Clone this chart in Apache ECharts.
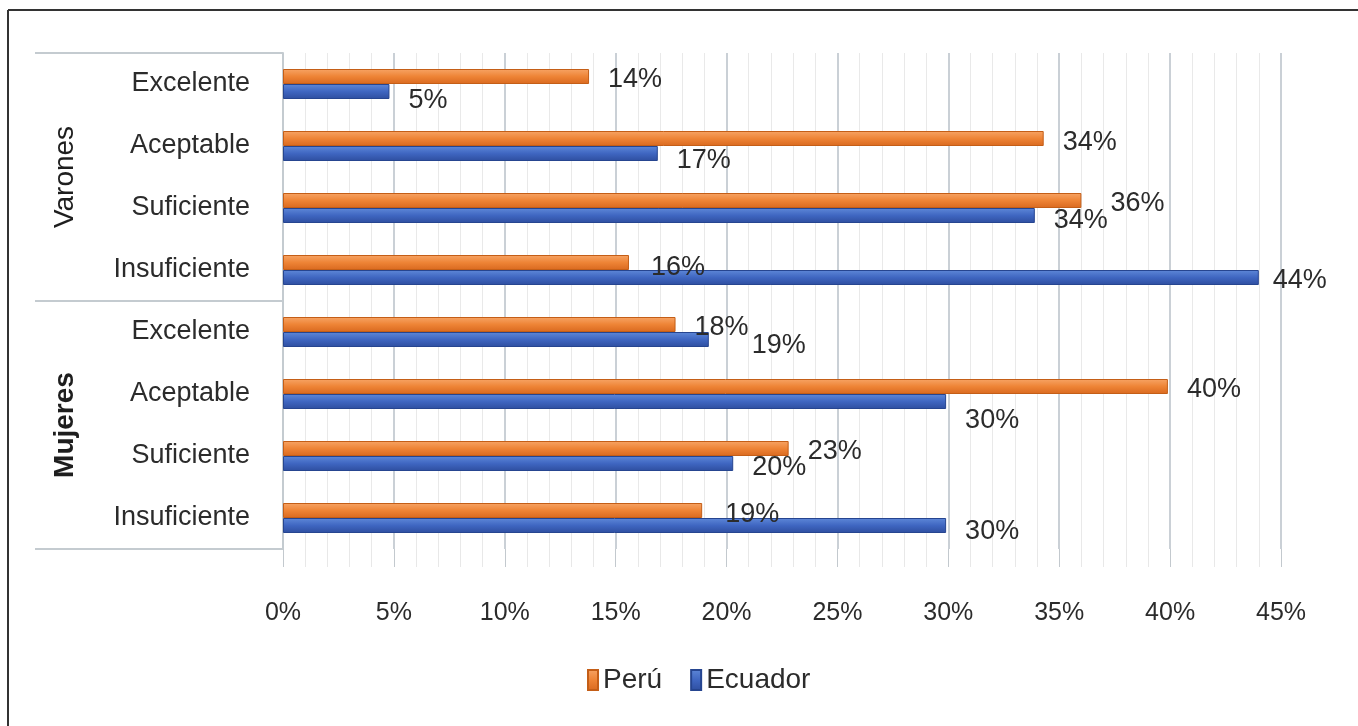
<!DOCTYPE html>
<html>
<head>
<meta charset="utf-8">
<script src="https://cdn.jsdelivr.net/npm/echarts@6/dist/echarts.min.js"></script>
<style>
  html, body { margin: 0; padding: 0; background: #ffffff; }
  #chart { width: 1358px; height: 726px; }
</style>
</head>
<body>
<div id="chart"></div>
<script>
// ---- data ----
var groups = ['Varones', 'Mujeres'];
var categories = ['Excelente', 'Aceptable', 'Suficiente', 'Insuficiente',
                  'Excelente', 'Aceptable', 'Suficiente', 'Insuficiente'];
var peru =    [13.8, 34.3, 36.0, 15.6, 17.7, 39.9, 22.8, 18.9];
var ecuador = [4.8, 16.9, 33.9, 44.0, 19.2, 29.9, 20.3, 29.9];
var seriesNames = ['Perú', 'Ecuador'];
var xTicks = { min: 0, max: 45, interval: 5 };

// ---- label placement tweaks (dx, dy) ----
var peruLabelShift =    [[0,3],[0,4],[10,3],[3,5],[0,3],[0,3],[0,3],[4,4]];
var ecuadorLabelShift = [[0,9],[0,7],[0,5],[-5,3],[24,6],[0,19],[0,4],[0,6]];

var FONT = 'Liberation Sans';
var TXT = '#2b2b2b';

function withShift(values, shifts) {
  return values.map(function (v, i) {
    return { value: v, label: { offset: shifts[i] } };
  });
}

var orangeFill = new echarts.graphic.LinearGradient(0, 0, 0, 1, [
  { offset: 0, color: '#F7A465' },
  { offset: 0.5, color: '#EE8436' },
  { offset: 1, color: '#D9691F' }
]);
var blueFill = new echarts.graphic.LinearGradient(0, 0, 0, 1, [
  { offset: 0, color: '#5E88D8' },
  { offset: 0.5, color: '#3F66C1' },
  { offset: 1, color: '#2E4E9F' }
]);

var labelCommon = {
  show: true,
  position: 'right',
  distance: 19,
  fontFamily: FONT,
  fontSize: 27,
  color: TXT,
  formatter: function (p) { return Math.round(p.value) + '%'; }
};

var chart = echarts.init(document.getElementById('chart'), null, { renderer: 'canvas' });

var option = {
  backgroundColor: '#ffffff',
  animation: false,
  grid: { left: 283, right: 77, top: 53, bottom: 177, containLabel: false },
  legend: {
    data: seriesNames,
    left: 582,
    top: 661,
    itemWidth: 10,
    itemHeight: 20,
    itemGap: 28,
    icon: 'rect',
    textStyle: { fontFamily: FONT, fontSize: 28, color: TXT, padding: [0, 0, 0, 0] }
  },
  xAxis: {
    type: 'value',
    min: xTicks.min,
    max: xTicks.max,
    interval: xTicks.interval,
    axisLine: { show: false },
    axisTick: { show: true, length: 18, lineStyle: { color: '#c3c9ce', width: 1 } },
    minorTick: { show: true, splitNumber: 5, length: 18, lineStyle: { color: '#e8e8e8', width: 1 } },
    splitLine: { show: true, lineStyle: { color: '#b9c1c8', width: 1.5 } },
    minorSplitLine: { show: true, lineStyle: { color: '#e9e9e9', width: 1 } },
    axisLabel: {
      margin: 52,
      fontFamily: FONT,
      fontSize: 25,
      color: TXT,
      formatter: '{value}%'
    }
  },
  yAxis: [
    {
      type: 'category',
      data: categories,
      inverse: true,
      position: 'left',
      axisLine: { show: false },
      axisTick: { show: false },
      axisLabel: { margin: 33, fontFamily: FONT, fontSize: 27, color: TXT }
    },
    {
      type: 'category',
      data: groups,
      inverse: true,
      position: 'left',
      offset: 0,
      axisLine: { show: true, lineStyle: { color: '#c4cbd0', width: 2 } },
      axisTick: { show: true, inside: false, length: 248, lineStyle: { color: '#c4cbd0', width: 2 } },
      axisLabel: {
        rotate: 90,
        margin: 204,
        formatter: function (v) { return v === 'Mujeres' ? '{b|' + v + '}' : '{n|' + v + '}'; },
        rich: {
          b: { fontFamily: FONT, fontSize: 28, fontWeight: 'bold', color: '#1e1e1e' },
          n: { fontFamily: FONT, fontSize: 28, fontWeight: 'normal', color: '#1e1e1e' }
        }
      }
    }
  ],
  series: [
    {
      name: seriesNames[0],
      type: 'bar',
      yAxisIndex: 0,
      barWidth: 15,
      barGap: '0%',
      itemStyle: { color: orangeFill, borderColor: '#C45E17', borderWidth: 1 },
      label: labelCommon,
      data: withShift(peru, peruLabelShift)
    },
    {
      name: seriesNames[1],
      type: 'bar',
      yAxisIndex: 0,
      barWidth: 15,
      barGap: '0%',
      itemStyle: { color: blueFill, borderColor: '#264590', borderWidth: 1 },
      label: labelCommon,
      data: withShift(ecuador, ecuadorLabelShift)
    }
  ],
  graphic: [
    { type: 'line', shape: { x1: 8, y1: 10, x2: 1358, y2: 10 }, style: { stroke: '#333333', lineWidth: 2 }, z: 100 },
    { type: 'line', shape: { x1: 8, y1: 10, x2: 8, y2: 726 }, style: { stroke: '#333333', lineWidth: 2 }, z: 100 }
  ]
};

chart.setOption(option);
</script>
</body>
</html>
